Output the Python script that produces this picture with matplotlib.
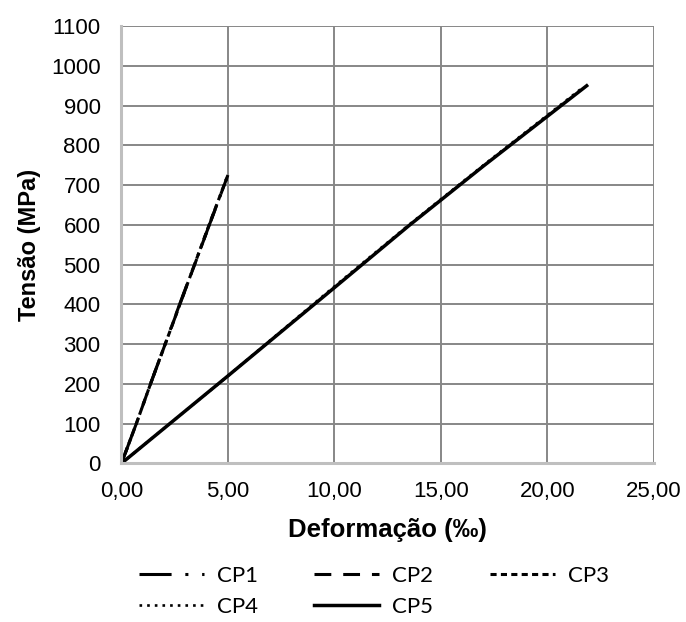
import matplotlib.pyplot as plt
from matplotlib.ticker import FuncFormatter

# Data (strain in per mille, stress in MPa)
series = ['CP1', 'CP2', 'CP3', 'CP4', 'CP5']
strain = {
    'CP1': [0.0, 0.7, 1.4, 2.8, 4.2, 4.95],
    'CP2': [0.0, 0.7, 1.4, 2.8, 4.2, 5.0],
    'CP3': [0.0, 0.7, 1.4, 2.8, 4.2, 5.02],
    'CP4': [0.0, 5.0, 10.0, 13.5, 17.0, 21.7],
    'CP5': [0.0, 5.0, 10.0, 13.5, 17.0, 21.85],
}
stress = {
    'CP1': [0, 100, 205, 410, 610, 718],
    'CP2': [0, 100, 205, 408, 610, 725],
    'CP3': [0, 100, 205, 408, 612, 728],
    'CP4': [0, 220, 445, 600, 750, 947],
    'CP5': [0, 220, 442, 598, 748, 950],
}
styles = {
    'CP1': dict(linestyle=(0, (10.5, 4.5, 1, 4.5, 1, 4.5)), linewidth=2.2),
    'CP2': dict(linestyle=(0, (5.5, 3.9)), linewidth=2.2),
    'CP3': dict(linestyle=(0, (2.0, 1.4)), linewidth=2.2),
    'CP4': dict(linestyle=(0, (1.0, 1.9)), linewidth=1.9),
    'CP5': dict(linestyle='-', linewidth=2.5),
}

plt.rcParams['font.family'] = ['Liberation Sans', 'DejaVu Sans']

fig = plt.figure(figsize=(6.86, 6.22), dpi=100)
ax = fig.add_axes([0.177, 0.255, 0.776, 0.703])

lines = {}
for name in series:
    lines[name], = ax.plot(strain[name], stress[name], color='black', label=name,
                           **styles[name])

ax.set_xlim(0, 25)
ax.set_ylim(0, 1100)
ax.set_xticks(range(0, 26, 5))
ax.set_yticks(range(0, 1101, 100))
ax.xaxis.set_major_formatter(FuncFormatter(lambda v, p: f'{v:.2f}'.replace('.', ',')))
ax.grid(True, color='#878787', linewidth=1.4)
ax.set_axisbelow(True)
for s in ['top', 'right']:
    ax.spines[s].set_visible(False)
for s in ['left', 'bottom']:
    ax.spines[s].set_color('#bfbfbf')
    ax.spines[s].set_linewidth(2.2)
ax.tick_params(length=0, labelsize=16)
ax.tick_params(axis='x', pad=13)
ax.tick_params(axis='y', pad=15)

ax.set_xlabel('Deformação (‰)', fontsize=18.5, fontweight='bold', labelpad=11)
ax.set_ylabel('Tensão (MPa)', fontsize=17, fontweight='bold', labelpad=7)

# legend filled column-wise, so order items to read row-wise
order = ['CP1', 'CP4', 'CP2', 'CP5', 'CP3']
fig.legend([lines[n] for n in order], order, loc='upper left',
           bbox_to_anchor=(0.186, 0.108), ncol=3, frameon=False,
           borderpad=0, handlelength=2.93, columnspacing=2.55,
           handletextpad=0.58, labelspacing=0.5,
           prop={'family': 'Lato', 'size': 16})

fig.savefig('out.png', dpi=100)
